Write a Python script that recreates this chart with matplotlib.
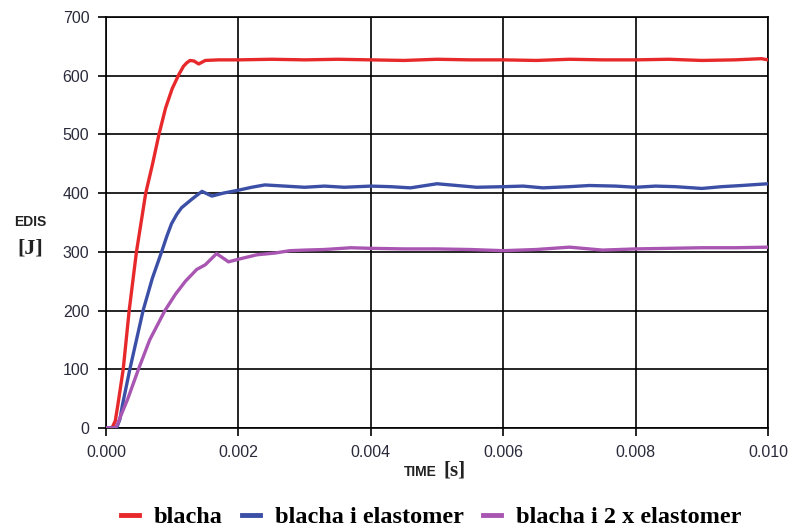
import matplotlib
matplotlib.use("Agg")
import matplotlib.pyplot as plt
from matplotlib.lines import Line2D

# ---- data ----
t_red = [0, 0.00009, 0.00014, 0.00018, 0.00026, 0.00035, 0.00046, 0.0006, 0.0007, 0.0008, 0.0009,
         0.001, 0.0011, 0.00117, 0.00122, 0.00127, 0.00133, 0.0014, 0.0015, 0.0017, 0.002, 0.0025,
         0.003, 0.0035, 0.004, 0.0045, 0.005, 0.0055, 0.006, 0.0065, 0.007, 0.0075, 0.008,
         0.0085, 0.009, 0.0095, 0.0099, 0.010]
v_red = [0, 0, 12, 40, 100, 200, 300, 400, 448, 500, 545,
         578, 602, 616, 622, 626, 625, 620, 626, 627, 627, 628,
         627, 628, 627, 626, 628, 627, 627, 626, 628, 627, 627,
         628, 626, 627, 629, 627]

t_blue = [0, 0.00016, 0.00021, 0.00025, 0.00036, 0.00046, 0.00056, 0.0007, 0.00084, 0.00092,
          0.00099, 0.00107, 0.00114, 0.0013, 0.00145, 0.0016, 0.00177, 0.002, 0.0022, 0.0024,
          0.0027, 0.003, 0.0033, 0.0036, 0.004, 0.0043, 0.0046, 0.005, 0.0053, 0.0056, 0.006,
          0.0063, 0.0066, 0.007, 0.0073, 0.0077, 0.008, 0.0083, 0.0086, 0.009, 0.0093, 0.0096,
          0.010]
v_blue = [0, 0, 15, 40, 100, 150, 200, 255, 300, 327,
          348, 364, 375, 390, 403, 395, 400, 405, 410, 414,
          412, 410, 412, 410, 412, 411, 409, 416, 413, 410, 411,
          412, 409, 411, 413, 412, 410, 412, 411, 408, 411, 413,
          416]

t_purple = [0, 0.00014, 0.00018, 0.00022, 0.00033, 0.00049, 0.00066, 0.00089, 0.00105, 0.0012,
            0.00137, 0.0015, 0.00167, 0.0018, 0.00185, 0.00202, 0.00228, 0.00255, 0.00278, 0.003,
            0.0033, 0.0037, 0.004, 0.0045, 0.005, 0.0055, 0.006, 0.0065, 0.007, 0.0075, 0.008,
            0.0085, 0.009, 0.0095, 0.010]
v_purple = [0, 0, 8, 20, 50, 100, 150, 200, 228, 250,
            270, 278, 297, 287, 283, 288, 295, 298, 302, 303,
            304, 307, 306, 305, 305, 304, 302, 304, 308, 303, 305,
            306, 307, 307, 308]

labels = ["blacha", "blacha i elastomer", "blacha i 2 x elastomer"]
colors = ["#e8292c", "#3c4fa6", "#a856b2"]
x_ticks = [0.000, 0.002, 0.004, 0.006, 0.008, 0.010]
y_ticks = [0, 100, 200, 300, 400, 500, 600, 700]

# ---- figure ----
fig = plt.figure(figsize=(7.89, 5.29), dpi=100)
ax = fig.add_axes([106/789, 1-428/529, (768-106)/789, (428-17)/529])

for t, v, c, lab in zip([t_red, t_blue, t_purple], [v_red, v_blue, v_purple], colors, labels):
    ax.plot(t, v, color=c, lw=2.4, label=lab, solid_joinstyle="round", zorder=3)

ax.set_xlim(0, 0.010)
ax.set_ylim(0, 700)
ax.set_xticks(x_ticks)
ax.set_xticklabels([f"{x:.3f}" for x in x_ticks])
ax.set_yticks(y_ticks)
ax.grid(True, color="black", lw=1.2)
for s in ax.spines.values():
    s.set_color("black")
    s.set_linewidth(1.2)
ax.tick_params(axis="both", direction="out", length=6, width=1.2, color="black",
               labelsize=11.5, labelcolor="#2a2a3a", pad=6)
for lbl in ax.get_xticklabels() + ax.get_yticklabels():
    lbl.set_family("Liberation Sans")

# axis titles
fig.text(420/789, 1-472/529, "TIME", fontsize=10, fontweight="bold", family="Liberation Sans",
         ha="center", va="center", color="#222222")
fig.text(455/789, 1-470/529, "[s]", fontsize=15, fontweight="bold", family="Liberation Serif",
         ha="center", va="center", color="#222222")
fig.text(30/789, 1-222/529, "EDIS", fontsize=10, fontweight="bold", family="Liberation Sans",
         ha="center", va="center", color="#222222")
fig.text(30/789, 1-249/529, "[J]", fontsize=16, fontweight="bold", family="Liberation Serif",
         ha="center", va="center", color="#222222")

handles = [Line2D([], [], color=c, lw=3.5) for c in colors]
fig.legend(handles, labels, loc="center", bbox_to_anchor=(431/789, 1-517/529), ncol=3,
           frameon=False, handlelength=0.75, handletextpad=0.6, columnspacing=0.8,
           prop={"family": "Liberation Serif", "weight": "bold", "size": 17.5})

fig.savefig("out.png", dpi=100)
